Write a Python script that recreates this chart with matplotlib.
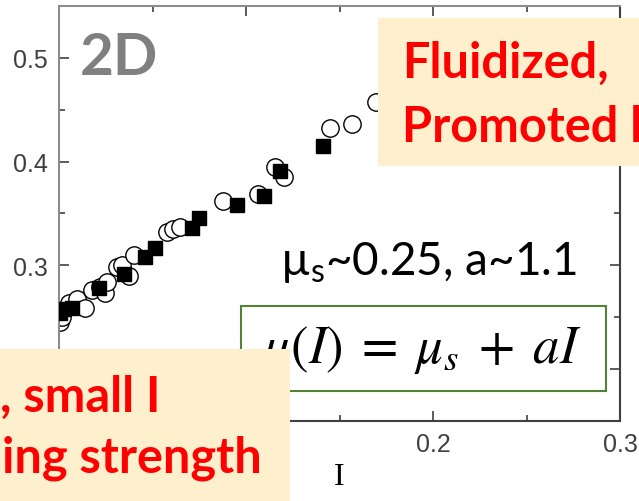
import matplotlib.pyplot as plt
from matplotlib.patches import Rectangle
from matplotlib.ticker import MultipleLocator

# values: inertial number I and friction mu
sq_I = [0.0005, 0.0027, 0.0070, 0.0214, 0.0348, 0.0460, 0.0513, 0.0711, 0.0749,
        0.0952, 0.1096, 0.1182, 0.1412]
sq_mu = [0.254, 0.258, 0.259, 0.278, 0.292, 0.308, 0.317, 0.336, 0.346,
         0.358, 0.367, 0.391, 0.415]

ci_I = [0.0005, 0.0016, 0.0053, 0.0096, 0.0139, 0.0176, 0.0219, 0.0246, 0.0257,
        0.0310, 0.0337, 0.0374, 0.0401, 0.0578, 0.0610, 0.0647, 0.0877, 0.1064,
        0.1155, 0.1203, 0.1449, 0.1567, 0.1695]
ci_mu = [0.245, 0.250, 0.264, 0.268, 0.259, 0.276, 0.279, 0.273, 0.284,
         0.298, 0.300, 0.290, 0.310, 0.332, 0.335, 0.337, 0.362, 0.369,
         0.395, 0.385, 0.432, 0.436, 0.457]

x_ticks = [0.0, 0.1, 0.2, 0.3]
x_labels = ['', '', '0.2', '0.3']        # the first two sit under the text box
y_ticks = [0.2, 0.3, 0.4, 0.5]
y_labels = ['', '0.3', '0.4', '0.5']

plt.rcParams['xtick.labelsize'] = 18
plt.rcParams['ytick.labelsize'] = 18
plt.rcParams['font.family'] = ['Liberation Sans', 'DejaVu Sans']

fig = plt.figure(figsize=(6.39, 5.02), dpi=100)

# main axes
ax = fig.add_axes([59 / 639, 1 - 422 / 502, 561 / 639, 415 / 502])
ax.plot(ci_I, ci_mu, 'o', ms=12.5, mfc='white', mec='black', mew=1.0, zorder=2)
ax.plot(sq_I, sq_mu, 's', ms=10.5, mfc='black', mec='black', zorder=3)

ax.set_xlim(0, 0.3)
ax.set_ylim(0.15, 0.55)
ax.set_xticks(x_ticks, x_labels, fontsize=18)
ax.set_yticks(y_ticks, y_labels, fontsize=18)
ax.xaxis.set_minor_locator(MultipleLocator(0.05))
ax.yaxis.set_minor_locator(MultipleLocator(0.05))
ax.tick_params(which='both', direction='in', top=True, right=True,
               colors='#404040', pad=8)
ax.tick_params(which='major', length=7, width=1.2)
ax.tick_params(which='minor', length=4, width=1.2)
for side in ['left', 'top']:
    ax.spines[side].set_color('#8c8c8c')
for side in ['right', 'bottom']:
    ax.spines[side].set_color('#404040')
for side in ax.spines:
    ax.spines[side].set_linewidth(1.5)

ax.set_xlabel('I', fontfamily='Liberation Serif', fontsize=23, labelpad=4)

# overlay in pixel coordinates for the annotations
ov = fig.add_axes([0, 0, 1, 1], zorder=5)
ov.set_xlim(0, 639)
ov.set_ylim(502, 0)
ov.set_axis_off()

bold = ['Lato', 'DejaVu Sans']

ov.text(80, 75, '2D', color='#808080', fontsize=42, fontweight='bold',
        fontfamily=bold)

# formula and fit values
ov.text(280, 275, r'$\mathregular{µ_s}$~0.25, a~1.1', color='black',
        fontsize=33, fontfamily=bold)
ov.add_patch(Rectangle((241, 307), 365, 85, facecolor='white',
                       edgecolor='#548235', lw=1.5, zorder=2))
ov.text(421, 350, r'$\mu(I)\;=\;\mu_s\;+\;aI$', math_fontfamily='stix',
        fontsize=38, ha='center', va='center', zorder=3)

# top right box
ov.add_patch(Rectangle((378, 19), 300, 148, facecolor='#FEF0CD',
                       edgecolor='none', zorder=4))
ov.text(402, 78, 'Fluidized,', color='#FF0000', fontsize=35,
        fontweight='bold', fontfamily=bold, zorder=5)
ov.text(402, 142, 'Promoted l', color='#FF0000', fontsize=35,
        fontweight='bold', fontfamily=bold, zorder=5)

# bottom left box
ov.add_patch(Rectangle((-10, 350), 300, 160, facecolor='#FEF0CD',
                       edgecolor='none', zorder=4))
ov.text(0, 412, ', small I', color='#FF0000', fontsize=35,
        fontweight='bold', fontfamily=bold, zorder=5)
ov.text(2, 473, 'ing strength', color='#FF0000', fontsize=35,
        fontweight='bold', fontfamily=bold, zorder=5)

fig.savefig('out.png', dpi=100)
